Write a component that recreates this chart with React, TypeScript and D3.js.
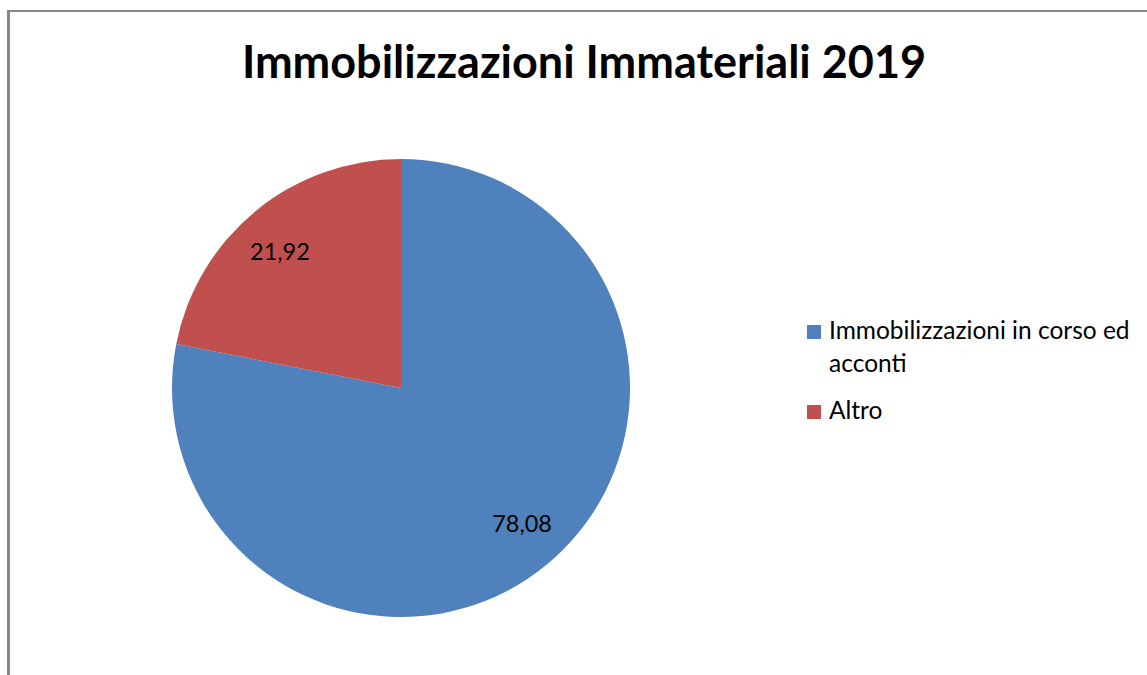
import * as d3 from "d3";
import React from "react";

const categories = ["Immobilizzazioni in corso ed acconti", "Altro"];
const values = [78.08, 21.92];
const colors = ["#4F81BD", "#C0504D"];
const legendLines = [["Immobilizzazioni in corso ed", "acconti"], ["Altro"]];
const title = "Immobilizzazioni Immateriali 2019";

const W = 1147;
const H = 675;
const cx = 401;
const cy = 388;
const radius = 229;
const font = "Lato, 'Open Sans', sans-serif";

const App = () => {
  const pie = d3.pie<number>().sort(null).value((d) => d);
  const arcs = pie(values);
  const arc = d3.arc<d3.PieArcDatum<number>>().innerRadius(0).outerRadius(radius);
  const labelArc = d3
    .arc<d3.PieArcDatum<number>>()
    .innerRadius(radius * 0.8)
    .outerRadius(radius * 0.8);
  const fmt = (v: number) => v.toFixed(2).replace(".", ",");

  return (
    <svg
      width={W}
      height={H}
      style={{ position: "absolute", left: 0, top: 0, background: "#fff" }}
    >
      <line x1={8.5} y1={11} x2={W} y2={11} stroke="#888" strokeWidth={2} />
      <line x1={8.5} y1={10} x2={8.5} y2={H} stroke="#888" strokeWidth={3} />
      <text
        x={584}
        y={78}
        textAnchor="middle"
        fontFamily={font}
        fontWeight="bold"
        fontSize={45}
        fill="#000"
      >
        {title}
      </text>
      <g transform={`translate(${cx},${cy})`}>
        {arcs.map((a, i) => (
          <path key={categories[i]} d={arc(a) || ""} fill={colors[i]} />
        ))}
        {arcs.map((a, i) => {
          const [x, y] = labelArc.centroid(a);
          return (
            <text
              key={"l" + i}
              x={x * 1.04}
              y={y * 0.96 + 8}
              textAnchor="middle"
              fontFamily={font}
              fontSize={23.5}
              fill="#000"
            >
              {fmt(values[i])}
            </text>
          );
        })}
      </g>
      <g>
        {legendLines.map((lines, i) => {
          const top = i === 0 ? 325 : 405;
          return (
            <g key={"lg" + i}>
              <rect x={807} y={top} width={14} height={14} fill={colors[i]} />
              {lines.map((t, j) => (
                <text
                  key={t}
                  x={829}
                  y={top + 14 + j * 33}
                  fontFamily={font}
                  fontSize={24.5}
                  fill="#000"
                >
                  {t}
                </text>
              ))}
            </g>
          );
        })}
      </g>
    </svg>
  );
};

export default App;
